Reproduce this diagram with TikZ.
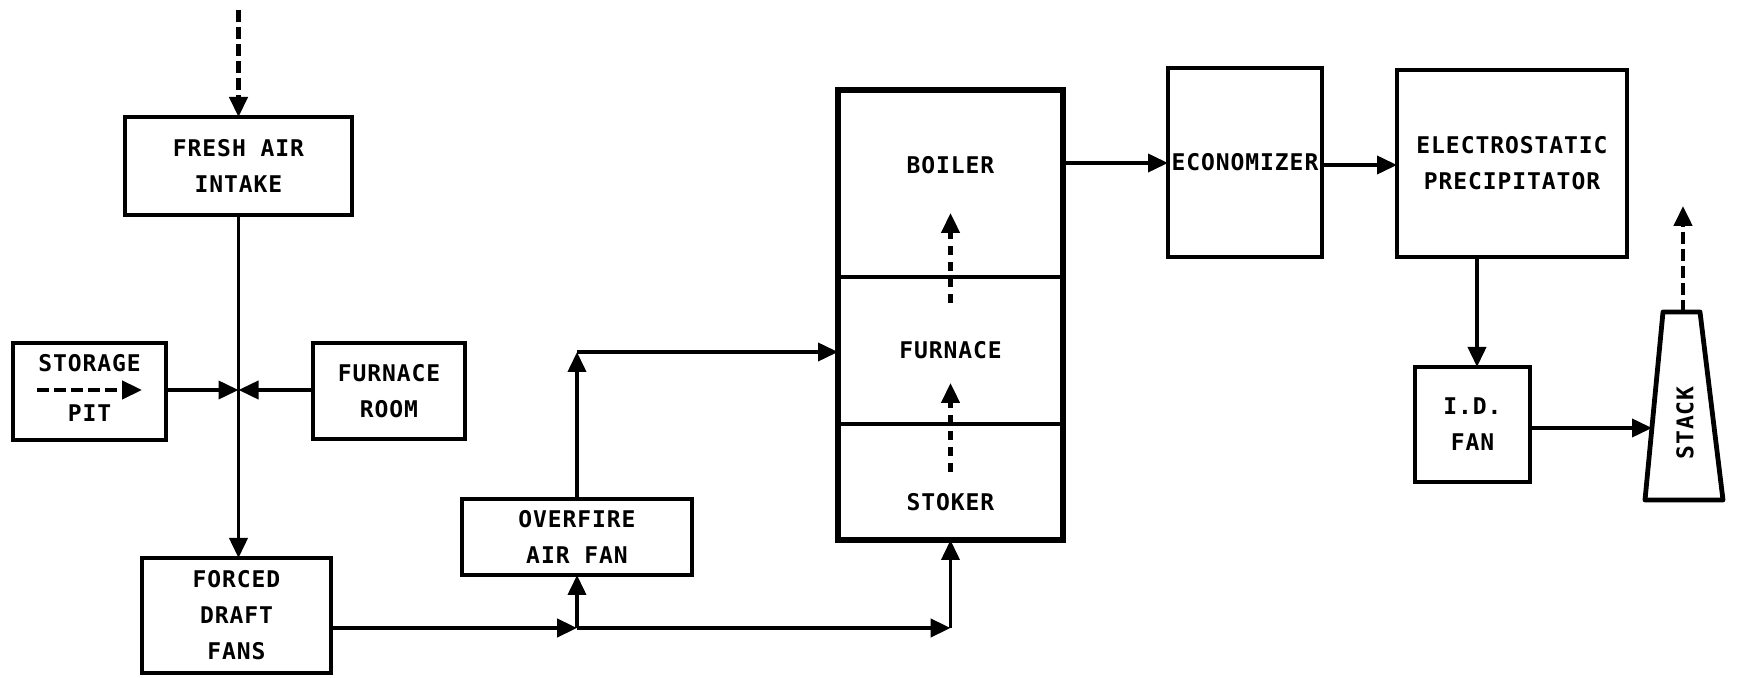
\documentclass[tikz,border=0pt]{standalone}
\usepackage{fontspec}
\newfontfamily\lblfont[LetterSpace=4]{DejaVu Sans Mono}
\usetikzlibrary{arrows.meta}
\begin{document}
\begin{tikzpicture}[x=0.5pt,y=-0.5pt,
  lbl/.style={inner sep=0pt, align=center, font=\lblfont\bfseries\fontsize{11.5}{18}\selectfont},
  box/.style={lbl, draw, line width=2.4pt, outer sep=0pt},
  arr/.style={-{Triangle[length=10pt,width=9pt]}, line width=1.9pt},
  darr/.style={arr, line width=2.3pt, dash pattern=on 6pt off 2.5pt},
  darrin/.style={arr, line width=2.3pt, dash pattern=on 4.5pt off 3.5pt}]
\useasboundingbox (0,0) rectangle (1737,678);
% boxes
\node[box, minimum width=113.5pt, minimum height=49pt] (fresh) at (238.5,166) {FRESH AIR\\INTAKE};
\node[box, minimum width=76.5pt, minimum height=48.5pt] (storage) at (89.5,391.5) {};
\node[lbl] (storaget) at (89.5,363) {STORAGE};
\node[lbl] (pitt) at (89.5,413) {PIT};
\node[box, minimum width=76pt, minimum height=48pt] (froom) at (389,391) {FURNACE\\ROOM};
\node[box, minimum width=94.5pt, minimum height=57.5pt] (fdf) at (236.5,615.5) {FORCED\\DRAFT\\FANS};
\node[box, minimum width=115pt, minimum height=38pt] (ofan) at (577,537) {OVERFIRE\\AIR FAN};
\node[box, minimum width=112.5pt, minimum height=93.5pt] (boiler) at (950.5,183.5) {};
\node[box, minimum width=112.5pt, minimum height=73.5pt] (furnace) at (950.5,350.5) {FURNACE};
\node[box, minimum width=112.5pt, minimum height=58pt] (stoker) at (950.5,482) {};
\draw[line width=3.3pt] (boiler.north west) rectangle (stoker.south east);
\node[lbl] (boilert) at (950.5,165) {BOILER};
\node[lbl] (stokert) at (950.5,502) {STOKER};
\node[box, minimum width=77pt, minimum height=94.5pt] (econ) at (1245,162.5) {ECONOMIZER};
\node[box, minimum width=115pt, minimum height=93.5pt] (esp) at (1512,163.5) {ELECTROSTATIC\\PRECIPITATOR};
\node[box, minimum width=57.5pt, minimum height=57.5pt] (idfan) at (1472.5,424.5) {I.D.\\FAN};
% stack
\coordinate (st1) at (1663,312);
\coordinate (st2) at (1700,312);
\coordinate (st3) at (1723,500);
\coordinate (st4) at (1645,500);
\draw[line width=2.4pt, line join=round] (st1) -- (st2) -- (st3) -- (st4) -- cycle;
\node[lbl, rotate=90] (stackt) at (1685,423) {STACK};
% connectors
\coordinate (top) at (238.5,10);
\draw[darr] (top) -- (fresh.north);
\coordinate (vx) at (238.5,0);
\draw[arr] (fresh.south) -- (fdf.north -| vx);
\coordinate (j1) at (238.5,390);
\draw[arr] (storage.east |- j1) -- (j1);
\draw[arr] (froom.west |- j1) -- (j1);
\coordinate (sa) at (37,390);
\coordinate (sb) at (142,390);
\draw[darr] (sa) -- (sb);
\coordinate (j2) at (577,628);
\coordinate (j3) at (950.5,628);
\draw[arr, line width=2.3pt] (fdf.east |- j2) -- (j2);
\draw[arr] (j2) -- (ofan.south);
\draw[arr, line width=2.3pt] (j2) -- (j3);
\draw[arr] (j3) -- (stoker.south);
\coordinate (j4) at (577,352);
\draw[arr] (ofan.north) -- (j4);
\draw[arr] (j4) -- (furnace.west |- j4);
\coordinate (d1) at (950.5,472);
\coordinate (d2) at (950.5,383);
\coordinate (d3) at (950.5,303);
\coordinate (d4) at (950.5,213);
\draw[darrin] (d1) -- (d2);
\draw[darrin] (d3) -- (d4);
\coordinate (e1) at (0,163);
\draw[arr] (boiler.east |- e1) -- (econ.west |- e1);
\coordinate (e2) at (0,165);
\draw[arr] (econ.east |- e2) -- (esp.west |- e2);
\coordinate (e3) at (1477,0);
\draw[arr] (esp.south -| e3) -- (idfan.north -| e3);
\coordinate (e4) at (0,428);
\coordinate (stackin) at (1652,428);
\draw[arr] (idfan.east |- e4) -- (stackin);
\coordinate (stacktop) at (1683,312);
\coordinate (stackup) at (1683,206);
\draw[darr] (stacktop) -- (stackup);
\end{tikzpicture}
\end{document}
